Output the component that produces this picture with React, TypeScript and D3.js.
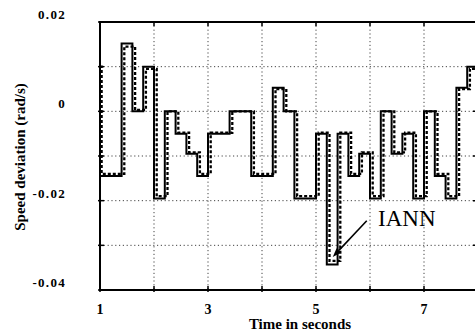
import React from 'react';
import * as d3 from 'd3';

// ---- data ----
const xTicks = [1, 2, 3, 4, 5, 6, 7, 8];
const xGrid = [2, 3, 4, 5, 6, 7];
const xTickLabels = [1, 3, 5, 7];
const yGrid = [-0.03, -0.02, -0.01, 0, 0.01];
const yTicks = [-0.04, -0.03, -0.02, -0.01, 0, 0.01, 0.02];
const yTickLabels = [0.02, 0, -0.02, -0.04];

// actual response (solid), step changes at these times
const actualTimes = [1.0, 1.0, 1.4, 1.6, 1.8, 2.0, 2.2, 2.4, 2.6, 2.8, 3.0, 3.4, 3.8, 4.2, 4.4, 4.6, 5.0, 5.2, 5.4, 5.6, 5.8, 6.0, 6.2, 6.4, 6.6, 6.8, 7.0, 7.2, 7.4, 7.6, 7.8, 8.0];
const actualValues = [0.01, -0.0145, 0.0152, 0, 0.01, -0.0195, 0, -0.005, -0.0095, -0.0145, -0.005, 0, -0.0145, 0.0053, 0, -0.0195, -0.005, -0.0343, -0.005, -0.0145, -0.0095, -0.0195, 0, -0.0095, -0.005, -0.0195, 0, -0.0145, -0.0195, 0.0053, 0.01, 0.01];

// IANN identified response (dashed)
const iannTimes = [1.0, 1.03, 1.45, 1.65, 1.85, 2.05, 2.25, 2.45, 2.65, 2.85, 3.05, 3.45, 3.85, 4.25, 4.45, 4.65, 5.05, 5.25, 5.45, 5.65, 5.85, 6.05, 6.25, 6.45, 6.65, 6.85, 7.05, 7.25, 7.45, 7.65, 7.85, 8.0];
const iannValues = [0.01, -0.014, 0.0145, 0.0003, 0.0095, -0.019, 0, -0.0048, -0.0092, -0.014, -0.0048, 0, -0.014, 0.005, 0, -0.019, -0.0048, -0.0335, -0.0048, -0.014, -0.0092, -0.019, 0, -0.0092, -0.0048, -0.019, 0, -0.014, -0.019, 0.005, 0.0095, 0.0095];

const annotationText = 'IANN';
const annotationPos = [6.15, -0.0257];
const arrowFrom = [5.94, -0.0245];
const arrowTo = [5.31, -0.0326];

const W = 475;
const H = 335;
const LEFT = 100;
const RIGHT = 478;
const TOP = 22;
const BOTTOM = 290;

const serif = '"Liberation Serif", "Times New Roman", serif';

export default function App() {
  const x = d3.scaleLinear().domain([1, 8]).range([LEFT, RIGHT]);
  const y = d3.scaleLinear().domain([-0.04, 0.02]).range([BOTTOM, TOP]);

  const line = d3
    .line<[number, number]>()
    .x((d) => x(d[0]))
    .y((d) => y(d[1]))
    .curve(d3.curveStepAfter);

  const actual = actualTimes.map((t, i) => [t, actualValues[i]] as [number, number]);
  const iann = iannTimes.map((t, i) => [t, iannValues[i]] as [number, number]);

  const ax0 = x(arrowFrom[0]);
  const ay0 = y(arrowFrom[1]);
  const ax1 = x(arrowTo[0]);
  const ay1 = y(arrowTo[1]);
  const ang = Math.atan2(ay1 - ay0, ax1 - ax0);
  const hl = 9;
  const hw = 3.2;
  const bx = ax1 - hl * Math.cos(ang);
  const by = ax1 === ax1 ? ay1 - hl * Math.sin(ang) : 0;
  const head = [
    [ax1, ay1],
    [bx + hw * Math.sin(ang), by - hw * Math.cos(ang)],
    [bx - hw * Math.sin(ang), by + hw * Math.cos(ang)],
  ]
    .map((p) => p.join(','))
    .join(' ');

  return (
    <svg
      width={W}
      height={H}
      style={{ position: 'absolute', left: 0, top: 0, background: '#fff' }}
    >
      <defs>
        <clipPath id="plot">
          <rect x={LEFT} y={TOP - 2} width={RIGHT - LEFT} height={BOTTOM - TOP + 4} />
        </clipPath>
      </defs>
      <rect x={0} y={0} width={W} height={H} fill="#fff" />

      {/* grid */}
      {xGrid.map((v) => (
        <line
          key={'gx' + v}
          x1={x(v)}
          x2={x(v)}
          y1={TOP}
          y2={BOTTOM}
          stroke="#444"
          strokeWidth={1}
          strokeDasharray="1.2,2.6"
        />
      ))}
      {yGrid.map((v) => (
        <line
          key={'gy' + v}
          x1={LEFT}
          x2={RIGHT}
          y1={y(v)}
          y2={y(v)}
          stroke="#444"
          strokeWidth={1}
          strokeDasharray="1.2,2.6"
        />
      ))}

      {/* data */}
      <g clipPath="url(#plot)">
        <path d={line(actual) || ''} fill="none" stroke="#000" strokeWidth={2} />
        <path
          d={line(iann) || ''}
          fill="none"
          stroke="#000"
          strokeWidth={2.3}
          strokeDasharray="3,2"
        />
      </g>

      {/* frame */}
      <line x1={LEFT} x2={LEFT} y1={TOP - 1} y2={BOTTOM + 1} stroke="#000" strokeWidth={2} />
      <line x1={LEFT} x2={RIGHT} y1={TOP} y2={TOP} stroke="#000" strokeWidth={2} />
      <line x1={LEFT} x2={RIGHT} y1={BOTTOM} y2={BOTTOM} stroke="#000" strokeWidth={2} />
      <line x1={RIGHT - 1} x2={RIGHT - 1} y1={TOP} y2={BOTTOM} stroke="#000" strokeWidth={2} />

      {/* ticks */}
      {xTicks.map((v) => (
        <g key={'tx' + v}>
          <line x1={x(v)} x2={x(v)} y1={BOTTOM - 4} y2={BOTTOM + 2} stroke="#000" strokeWidth={1.5} />
          <line x1={x(v)} x2={x(v)} y1={TOP} y2={TOP + 4} stroke="#000" strokeWidth={1.5} />
        </g>
      ))}
      {yTicks.map((v) => (
        <g key={'ty' + v}>
          <line x1={LEFT - 2} x2={LEFT + 4} y1={y(v)} y2={y(v)} stroke="#000" strokeWidth={1.5} />
          <line x1={RIGHT - 5} x2={RIGHT} y1={y(v)} y2={y(v)} stroke="#000" strokeWidth={1.5} />
        </g>
      ))}

      {/* tick labels */}
      {xTickLabels.map((v) => (
        <text
          key={'lx' + v}
          x={x(v)}
          y={314}
          textAnchor="middle"
          fontFamily={serif}
          fontWeight="bold"
          fontSize={14}
        >
          {v}
        </text>
      ))}
      {yTickLabels.map((v) => (
        <text
          key={'ly' + v}
          x={66}
          y={y(v) - 3}
          textAnchor="end"
          fontFamily={serif}
          fontWeight="bold"
          fontSize={13}
          letterSpacing={1.3}
        >
          {v === 0 ? '0' : v.toFixed(2)}
        </text>
      ))}

      {/* axis titles */}
      <text
        x={300}
        y={329}
        textAnchor="middle"
        fontFamily={serif}
        fontWeight="bold"
        fontSize={15}
      >
        Time in seconds
      </text>
      <text
        transform={`translate(25,157) rotate(-90)`}
        textAnchor="middle"
        fontFamily={serif}
        fontWeight="bold"
        fontSize={15}
      >
        Speed deviation (rad/s)
      </text>

      {/* annotation */}
      <line x1={ax0} y1={ay0} x2={bx} y2={by} stroke="#000" strokeWidth={1.6} />
      <polygon points={head} fill="#000" />
      <text
        x={x(annotationPos[0])}
        y={y(annotationPos[1])}
        fontFamily={serif}
        fontSize={23}
      >
        {annotationText}
      </text>
    </svg>
  );
}
